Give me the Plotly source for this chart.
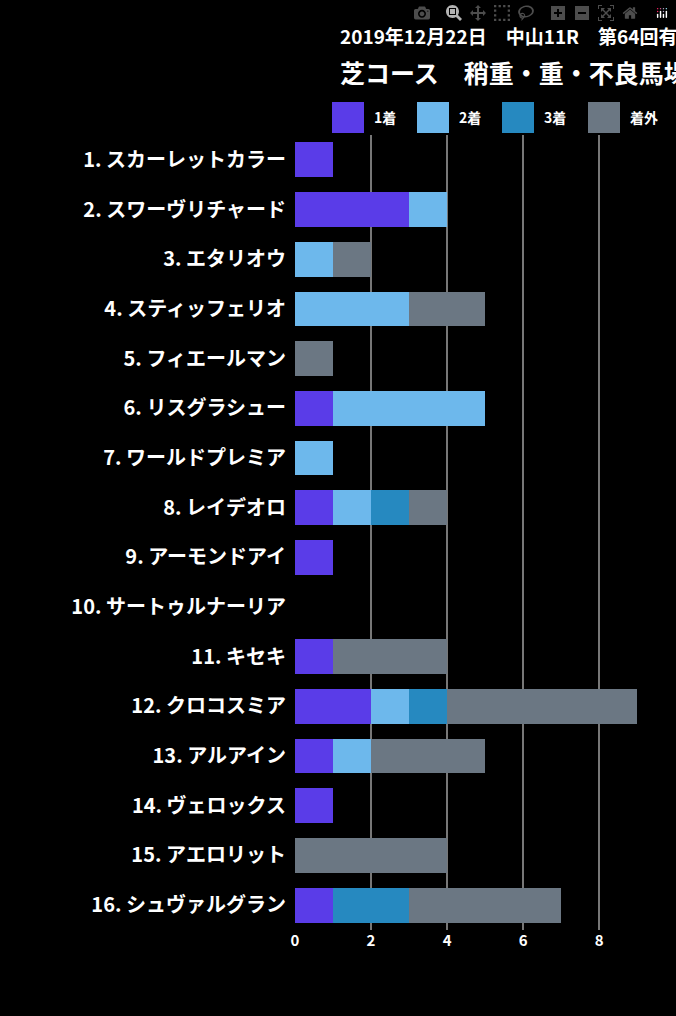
import plotly.graph_objects as go

horses = ["1. スカーレットカラー","2. スワーヴリチャード","3. エタリオウ","4. スティッフェリオ","5. フィエールマン",
          "6. リスグラシュー","7. ワールドプレミア","8. レイデオロ","9. アーモンドアイ","10. サートゥルナーリア",
          "11. キセキ","12. クロコスミア","13. アルアイン","14. ヴェロックス","15. アエロリット","16. シュヴァルグラン"]
first  = [1,3,0,0,0,1,0,1,1,0,1,2,1,1,0,1]
second = [0,1,1,3,0,4,1,1,0,0,0,1,1,0,0,0]
third  = [0,0,0,0,0,0,0,1,0,0,0,1,0,0,0,2]
other  = [0,0,1,2,1,0,0,1,0,0,3,5,3,0,4,4]
series = [("1着", first, "#5a3ce8"), ("2着", second, "#6db8ec"), ("3着", third, "#2689c0"), ("着外", other, "#6b7783")]

fig = go.Figure()
for name, vals, col in series:
    fig.add_trace(go.Bar(y=horses, x=vals, name=name, orientation="h", marker=dict(color=col, line=dict(width=0)),
                         width=0.7, showlegend=False))

font = "Noto Sans CJK JP"
L, R, T, B = 295, 16, 135, 86
PW, PH = 676 - L - R, 1016 - T - B
fig.update_layout(
    barmode="stack", width=676, height=1016, paper_bgcolor="black", plot_bgcolor="black",
    margin=dict(l=L, r=R, t=T, b=B),
    font=dict(family=font, color="white", size=17),
    xaxis=dict(range=[0, 9.6], dtick=2, showgrid=True, gridcolor="#777", gridwidth=2, zeroline=False,
               tickfont=dict(size=15, color="white", weight="bold"), ticks="", showline=False),
    yaxis=dict(autorange="reversed", tickfont=dict(size=20, color="white", weight="bold"), ticks="", showgrid=False,
               ticklabelstandoff=8),
)
cx = (338 - L) / PW
fig.add_annotation(text="<b>2019年12月22日　中山11R　第64回有馬記念</b>", xref="paper", yref="paper",
                   x=cx, y=1 + (T - 35) / PH, yanchor="middle", showarrow=False, font=dict(size=19))
fig.add_annotation(text="<b>芝コース　稍重・重・不良馬場成績</b>", xref="paper", yref="paper",
                   x=cx, y=1 + (T - 72) / PH, yanchor="middle", showarrow=False, font=dict(size=25))
lx = [332, 417, 502, 588]
for (name, _, col), x0 in zip(series, lx):
    fig.add_shape(type="rect", xref="paper", yref="paper",
                  x0=(x0 - L) / PW, x1=(x0 + 32 - L) / PW, y0=1 + (T - 133) / PH, y1=1 + (T - 102) / PH,
                  fillcolor=col, line=dict(width=0))
    fig.add_annotation(text="<b>" + name + "</b>", xref="paper", yref="paper", x=(x0 + 40 - L) / PW,
                       y=1 + (T - 117) / PH, xanchor="left", yanchor="middle", showarrow=False, font=dict(size=14))
fig.write_html("out.html")
with open("out.html", encoding="utf-8") as f:
    h = f.read()
h = h.replace("<body>", "<body style=\"margin:0;background:black\">", 1)
with open("out.html", "w", encoding="utf-8") as f:
    f.write(h)
